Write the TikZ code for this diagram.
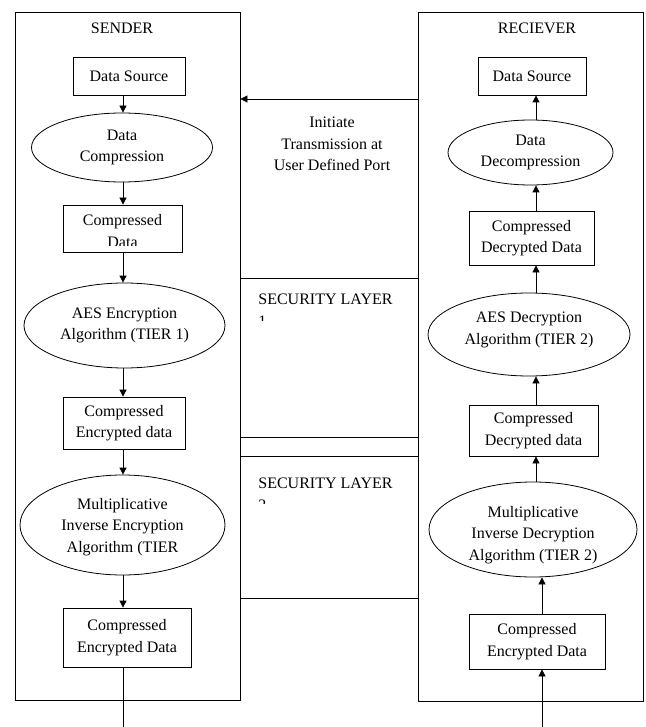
\documentclass[tikz,border=0pt]{standalone}
\usepackage{fontspec}
\setmainfont{Liberation Serif}
\usetikzlibrary{arrows.meta,shapes.geometric}
\begin{document}
\begin{tikzpicture}[x=1pt,y=-1pt, line width=0.8pt,
  font=\fontsize{16}{21.5}\selectfont,
  box/.style={draw, rectangle, inner sep=0pt, align=center},
  oval/.style={draw, ellipse, inner sep=0pt, align=center},
  arr/.style={-{Triangle[length=7pt,width=7pt]}},
  lbl/.style={inner sep=0pt, align=center},
  lbll/.style={inner sep=0pt, align=left, anchor=north west}]
\useasboundingbox (0,0) rectangle (645,727);
% containers
\node[box, minimum width=225, minimum height=688] (sender) at (127.5,356) {};
\node[box, minimum width=225, minimum height=689] (receiver) at (530.5,356.5) {};
\node[lbl] (st) at (122,28) {SENDER};
\node[lbl] (rt) at (537,28) {RECIEVER};
% column coordinates
\coordinate (cs) at (123,0);
\coordinate (cr1) at (536,0);
\coordinate (cr2) at (542,0);
\coordinate (sb) at (123,727);
\coordinate (rb) at (542,727);
\coordinate (y1) at (0,99);
\coordinate (y2) at (0,278);
\coordinate (y3) at (0,437);
\coordinate (y4) at (0,456);
\coordinate (y5) at (0,598);
% sender nodes
\node[box, minimum width=112, minimum height=38] (ds1) at (129,76) {Data Source};
\node[oval, minimum width=181, minimum height=69] (dc1) at (122,147.5) {Data\\Compression};
\node[box, minimum width=119, minimum height=47] (cd1) at (122.5,228.5) {};
\begin{scope}
\clip (64,206) rectangle (181,245);
\node[lbl] (cd1t) at (122.5,231) {Compressed\\Data};
\end{scope}
\node[oval, minimum width=201, minimum height=85] (aes1) at (124.5,325.5) {AES Encryption\\Algorithm (TIER 1)};
\node[box, minimum width=122, minimum height=52] (ced1) at (124,423) {Compressed\\Encrypted data};
\node[oval, minimum width=205, minimum height=100] (mie1) at (122.5,525) {};
\node[lbl] (mie1t) at (122.5,527) {Multiplicative\\Inverse Encryption\\Algorithm (TIER};
\node[box, minimum width=128, minimum height=59] (ced2) at (127,637.5) {Compressed\\Encrypted Data};
% sender arrows
\draw[arr] (ds1.south -| cs) -- (dc1.north -| cs);
\draw[arr] (dc1.south -| cs) -- (cd1.north -| cs);
\draw[arr] (cd1.south -| cs) -- (aes1.north -| cs);
\draw[arr] (aes1.south -| cs) -- (ced1.north -| cs);
\draw[arr] (ced1.south -| cs) -- (mie1.north -| cs);
\draw[arr] (mie1.south -| cs) -- (ced2.north -| cs);
\draw (ced2.south -| cs) -- (sb);
% receiver nodes
\node[box, minimum width=108, minimum height=38] (ds2) at (532,76) {Data Source};
\node[oval, minimum width=165, minimum height=65] (dd2) at (530.5,152.5) {Data\\Decompression};
\node[box, minimum width=125, minimum height=54] (cdd2) at (531.5,238) {Compressed\\Decrypted Data};
\node[oval, minimum width=202, minimum height=83] (aesd2) at (529,334.5) {};
\node[lbl] (aesd2t) at (529,330) {AES Decryption\\Algorithm (TIER 2)};
\node[box, minimum width=129, minimum height=51] (cdd3) at (533.5,430.5) {Compressed\\Decrypted data};
\node[oval, minimum width=208, minimum height=95] (mid2) at (533,529.5) {};
\node[lbl] (mid2t) at (533,535) {Multiplicative\\Inverse Decryption\\Algorithm (TIER 2)};
\node[box, minimum width=136, minimum height=55] (ced3) at (537,641.5) {Compressed\\Encrypted Data};
% receiver arrows
\draw[arr] (dd2.north -| cr1) -- (ds2.south -| cr1);
\draw[arr] (cdd2.north -| cr1) -- (dd2.south -| cr1);
\draw[arr] (aesd2.north -| cr1) -- (cdd2.south -| cr1);
\draw[arr] (cdd3.north -| cr1) -- (aesd2.south -| cr1);
\draw[arr] (mid2.north -| cr1) -- (cdd3.south -| cr1);
\draw[arr] (ced3.north -| cr2) -- (mid2.south -| cr2);
\draw[arr] (rb) -- (ced3.south -| cr2);
% middle connectors
\draw[arr] (receiver.west |- y1) -- (sender.east |- y1);
\draw (sender.east |- y2) -- (receiver.west |- y2);
\draw (sender.east |- y3) -- (receiver.west |- y3);
\draw (sender.east |- y4) -- (receiver.west |- y4);
\draw (sender.east |- y5) -- (receiver.west |- y5);
\node[lbl] (init) at (332,144) {Initiate\\Transmission at\\User Defined Port};
\begin{scope}
\clip (250,290) rectangle (410,320);
\node[lbll] (sl1) at (258,294) {SECURITY LAYER\\1};
\end{scope}
\begin{scope}
\clip (250,470) rectangle (410,503);
\node[lbll] (sl2) at (258,478) {SECURITY LAYER\\2};
\end{scope}
\end{tikzpicture}
\end{document}
